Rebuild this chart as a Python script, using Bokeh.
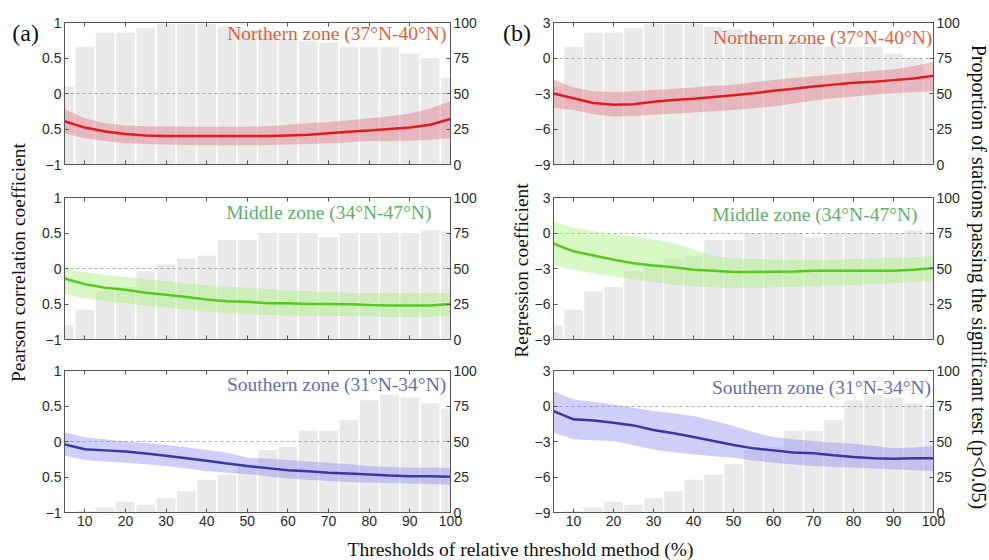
from math import pi
from bokeh.plotting import figure
from bokeh.models import Range1d, LinearAxis, FixedTicker, Label
from bokeh.layouts import column, row
from bokeh.embed import file_html
from bokeh.resources import INLINE
from bokeh.core.properties import value

# ---------------- data ----------------
THRESH = [5, 10, 15, 20, 25, 30, 35, 40, 45, 50, 55, 60, 65, 70, 75, 80, 85, 90, 95, 100]
X_TICKS = [10, 20, 30, 40, 50, 60, 70, 80, 90, 100]
PCT_TICKS = [0, 25, 50, 75, 100]
R_TICKS = [-1, -0.5, 0, 0.5, 1]
R_LABELS = {-0.5: "0.5"}
B_TICKS = [-9, -6, -3, 0, 3]
ZERO_LINE = [0]

# proportion of stations passing the significance test (%)
north_pct = [55, 83, 93, 93, 96, 99, 99, 99, 97, 95, 92, 88, 87, 86, 83, 83, 83, 78, 75, 61]
middle_pct = [10, 21, 34, 37, 48, 53, 57, 59, 70, 70, 75, 75, 75, 72, 75, 75, 75, 75, 77, 76]
south_pct = [0, 1, 3.5, 7.5, 5.5, 10, 15, 23, 26.5, 34, 44, 46, 57.5, 57.5, 65, 79, 83, 81, 77, 73]

# Pearson correlation coefficient (mean, lower, upper)
north_r = [-0.39, -0.48, -0.535, -0.57, -0.59, -0.60, -0.60, -0.60, -0.60, -0.60, -0.60, -0.59, -0.58, -0.56, -0.54, -0.52, -0.50, -0.48, -0.44, -0.36]
north_r_lo = [-0.56, -0.63, -0.67, -0.70, -0.71, -0.72, -0.725, -0.73, -0.73, -0.73, -0.725, -0.72, -0.71, -0.70, -0.685, -0.67, -0.67, -0.665, -0.65, -0.63]
north_r_hi = [-0.22, -0.35, -0.42, -0.45, -0.46, -0.465, -0.47, -0.47, -0.47, -0.47, -0.46, -0.44, -0.42, -0.40, -0.375, -0.35, -0.32, -0.28, -0.21, -0.11]

middle_r = [-0.14, -0.22, -0.27, -0.30, -0.34, -0.37, -0.40, -0.435, -0.46, -0.47, -0.49, -0.49, -0.50, -0.50, -0.505, -0.515, -0.52, -0.52, -0.52, -0.50]
middle_r_lo = [-0.36, -0.42, -0.46, -0.49, -0.52, -0.55, -0.58, -0.61, -0.63, -0.645, -0.655, -0.66, -0.665, -0.67, -0.67, -0.675, -0.68, -0.68, -0.68, -0.67]
middle_r_hi = [0.0, -0.05, -0.09, -0.12, -0.15, -0.18, -0.21, -0.24, -0.26, -0.27, -0.29, -0.31, -0.32, -0.33, -0.34, -0.345, -0.35, -0.35, -0.35, -0.34]

south_r = [-0.04, -0.11, -0.125, -0.14, -0.17, -0.20, -0.235, -0.27, -0.31, -0.345, -0.375, -0.405, -0.42, -0.44, -0.45, -0.465, -0.48, -0.49, -0.49, -0.495]
south_r_lo = [-0.20, -0.26, -0.28, -0.30, -0.32, -0.345, -0.38, -0.415, -0.44, -0.46, -0.49, -0.52, -0.54, -0.555, -0.57, -0.58, -0.585, -0.59, -0.60, -0.61]
south_r_hi = [0.13, 0.06, 0.03, 0.0, -0.02, -0.05, -0.08, -0.12, -0.16, -0.23, -0.24, -0.26, -0.28, -0.30, -0.32, -0.345, -0.36, -0.37, -0.37, -0.37]

# Regression coefficient (mean, lower, upper)
north_b = [-3.0, -3.4, -3.8, -3.95, -3.9, -3.7, -3.55, -3.45, -3.3, -3.15, -2.97, -2.77, -2.6, -2.4, -2.25, -2.1, -2.0, -1.87, -1.73, -1.5]
north_b_lo = [-4.2, -4.4, -4.75, -4.95, -4.9, -4.8, -4.7, -4.6, -4.5, -4.4, -4.25, -4.1, -3.85, -3.6, -3.4, -3.25, -3.1, -2.95, -2.9, -2.8]
north_b_hi = [-1.8, -2.5, -2.8, -2.9, -2.8, -2.7, -2.6, -2.5, -2.35, -2.25, -2.05, -1.85, -1.7, -1.55, -1.4, -1.25, -1.1, -0.95, -0.7, -0.3]

middle_b = [-0.9, -1.55, -1.9, -2.25, -2.55, -2.75, -2.9, -3.1, -3.2, -3.3, -3.3, -3.27, -3.25, -3.2, -3.2, -3.2, -3.2, -3.2, -3.1, -2.95]
middle_b_lo = [-2.7, -3.1, -3.4, -3.65, -3.9, -4.15, -4.35, -4.5, -4.6, -4.65, -4.65, -4.6, -4.55, -4.5, -4.45, -4.4, -4.3, -4.25, -4.15, -4.1]
middle_b_hi = [1.0, 0.45, 0.15, -0.1, -0.3, -0.55, -0.85, -1.4, -1.95, -2.15, -2.2, -2.25, -2.25, -2.25, -2.25, -2.2, -2.15, -2.1, -2.05, -1.95]

south_b = [-0.43, -1.13, -1.22, -1.41, -1.64, -2.03, -2.31, -2.62, -2.96, -3.3, -3.58, -3.75, -3.92, -4.0, -4.17, -4.3, -4.42, -4.45, -4.42, -4.42]
south_b_lo = [-2.26, -2.82, -2.9, -2.96, -3.3, -3.67, -3.9, -4.09, -4.25, -4.37, -4.6, -4.79, -4.95, -5.07, -5.15, -5.2, -5.28, -5.35, -5.42, -5.49]
south_b_hi = [1.26, 0.55, 0.35, 0.13, -0.15, -0.43, -0.62, -0.85, -1.25, -1.7, -2.2, -2.62, -2.8, -2.96, -3.1, -3.19, -3.35, -3.58, -3.5, -3.38]

ZONE_NAMES = ["Northern zone (37°N-40°N)", "Middle zone (34°N-47°N)", "Southern zone (31°N-34°N)"]
PANEL_LETTERS = ["(a)", "(b)"]
Y_TITLE_A = "Pearson correlation coefficient"
Y_TITLE_B = "Regression coefficient"
Y_TITLE_R = "Proportion of stations passing the significant test (p<0.05)"
X_TITLE = "Thresholds of relative threshold method (%)"

# ---------------- styles ----------------
FRAME = "#555555"
TICK_TXT = "#2b2b2b"
TITLE_TXT = "#111111"
BAR_FILL = "#e9e9e9"
BAR_W = 4.6
SANS = "Liberation Sans"
SERIF = "Liberation Serif"
LINE_COL = ["#e31a1c", "#55c91c", "#3a36a8"]
BAND_COL = ["#e07080", "#a8f080", "#9088ee"]
BAND_ALPHA = [0.42, 0.45, 0.42]
ZONE_COL = ["#e2603c", "#5fae6e", "#6b6bb3"]

ROW_BORDERS = [(22, 16), (17, 15), (16, 22)]   # (top, bottom) per row
FRAME_H = 142
LEFT_W = 39
A_W, A_BL, A_BR = 440, 24, 28
MID_W = 52
B_W, B_BL, B_BR = 431, 16, 29
RIGHT_W = 26
BOTTOM_H = 26
TOTAL_H = sum(t + b + FRAME_H for t, b in ROW_BORDERS)
TOTAL_W = LEFT_W + A_W + MID_W + B_W + RIGHT_W

# zone label anchor (x, y) in data units per panel
ZLAB_A = [(99.0, 0.84), (95.3, 0.79), (98.95, 0.80)]
ZLAB_B = [(99.7, 1.76), (96.0, 1.54), (99.4, 1.59)]


def style_axis(ax, ticks, labels=True, overrides=None):
    ax.ticker = FixedTicker(ticks=ticks)
    ax.major_tick_in = 4
    ax.major_tick_out = 0
    ax.minor_tick_line_color = None
    ax.axis_line_color = FRAME
    ax.major_tick_line_color = FRAME
    ax.major_label_text_font = SANS
    ax.major_label_text_font_size = "14px"
    ax.major_label_text_color = TICK_TXT
    ax.major_label_standoff = 3
    if overrides:
        ax.major_label_overrides = overrides
    if not labels:
        ax.major_label_overrides = {t: "" for t in ticks}
        ax.major_label_text_font_size = "0px"
        ax.major_label_standoff = 0


def make_panel(w, bl, br, irow, yrange, yticks, yover, pct, lo, mid, hi, zlab, bottom_labels):
    bt, bb = ROW_BORDERS[irow]
    h = bt + FRAME_H + bb
    p = figure(width=w, height=h, x_range=Range1d(5, 100), y_range=Range1d(*yrange),
               output_backend="svg", toolbar_location=None,
               x_axis_location=None, y_axis_location=None,
               min_border_left=bl, min_border_right=br, min_border_top=bt, min_border_bottom=bb)
    p.extra_y_ranges = {"pct": Range1d(0, 100)}
    p.outline_line_color = FRAME
    p.outline_line_width = 1
    p.background_fill_color = "white"
    p.border_fill_color = "white"
    p.vbar(x=THRESH, top=pct, bottom=0, width=BAR_W, y_range_name="pct",
           fill_color=BAR_FILL, line_color=None)
    p.hspan(y=ZERO_LINE, line_color="#a8a8a8", line_dash="3 3", line_width=1)
    p.varea(x=THRESH, y1=lo, y2=hi, fill_color=BAND_COL[irow], fill_alpha=BAND_ALPHA[irow])
    p.line(x=THRESH, y=mid, line_color=LINE_COL[irow], line_width=2.5)

    left = LinearAxis()
    style_axis(left, yticks, True, yover)
    p.add_layout(left, "left")
    right = LinearAxis(y_range_name="pct")
    style_axis(right, PCT_TICKS, True)
    p.add_layout(right, "right")
    below = LinearAxis()
    style_axis(below, X_TICKS, bottom_labels)
    p.add_layout(below, "below")
    above = LinearAxis()
    style_axis(above, X_TICKS, False)
    p.add_layout(above, "above")
    p.grid.grid_line_color = None

    p.add_layout(Label(x=zlab[0], y=zlab[1], text=ZONE_NAMES[irow], text_align="right",
                       text_baseline="middle", text_font=SERIF, text_font_size="19.5px",
                       text_color=ZONE_COL[irow]))
    return p


A_data = [(north_pct, north_r_lo, north_r, north_r_hi),
          (middle_pct, middle_r_lo, middle_r, middle_r_hi),
          (south_pct, south_r_lo, south_r, south_r_hi)]
B_data = [(north_pct, north_b_lo, north_b, north_b_hi),
          (middle_pct, middle_b_lo, middle_b, middle_b_hi),
          (south_pct, south_b_lo, south_b, south_b_hi)]

col_a, col_b = [], []
for i in range(3):
    pct, lo, mid, hi = A_data[i]
    col_a.append(make_panel(A_W, A_BL, A_BR, i, (-1, 1), R_TICKS, R_LABELS,
                            pct, lo, mid, hi, ZLAB_A[i], i == 2))
    pct, lo, mid, hi = B_data[i]
    col_b.append(make_panel(B_W, B_BL, B_BR, i, (-9, 3), B_TICKS, None,
                            pct, lo, mid, hi, ZLAB_B[i], i == 2))


def strip(w, h):
    s = figure(width=w, height=h, x_range=Range1d(0, w), y_range=Range1d(0, h),
               output_backend="svg", toolbar_location=None,
               x_axis_location=None, y_axis_location=None, min_border=0)
    s.outline_line_color = None
    s.grid.grid_line_color = None
    s.background_fill_color = "white"
    s.border_fill_color = "white"
    return s


def add_text(s, x, y, txt, size, angle=0.0, align="center"):
    s.text(x=[x], y=[y], text=[txt], text_align=align, text_baseline="middle",
           text_font=value(SERIF), text_font_size=size, text_color=TITLE_TXT, angle=angle)


left_strip = strip(LEFT_W, TOTAL_H)
add_text(left_strip, LEFT_W - 0.5, TOTAL_H - 32, PANEL_LETTERS[0], "24px", align="right")
add_text(left_strip, 18, TOTAL_H - 262, Y_TITLE_A, "19.5px", angle=pi / 2)

mid_strip = strip(MID_W, TOTAL_H)
add_text(mid_strip, MID_W - 0.5, TOTAL_H - 32, PANEL_LETTERS[1], "24px", align="right")
add_text(mid_strip, 41.5, TOTAL_H - 270, Y_TITLE_B, "19.5px", angle=pi / 2)

right_strip = strip(RIGHT_W, TOTAL_H)
add_text(right_strip, 16, TOTAL_H - 276.5, Y_TITLE_R, "20px", angle=-pi / 2)

bottom_strip = strip(TOTAL_W, BOTTOM_H)
add_text(bottom_strip, 520, BOTTOM_H - 15, X_TITLE, "19.5px")

layout = column(row(left_strip, column(*col_a, spacing=0), mid_strip,
                    column(*col_b, spacing=0), right_strip, spacing=0),
                bottom_strip, spacing=0)

open("out.html", "w").write(file_html(layout, INLINE))
